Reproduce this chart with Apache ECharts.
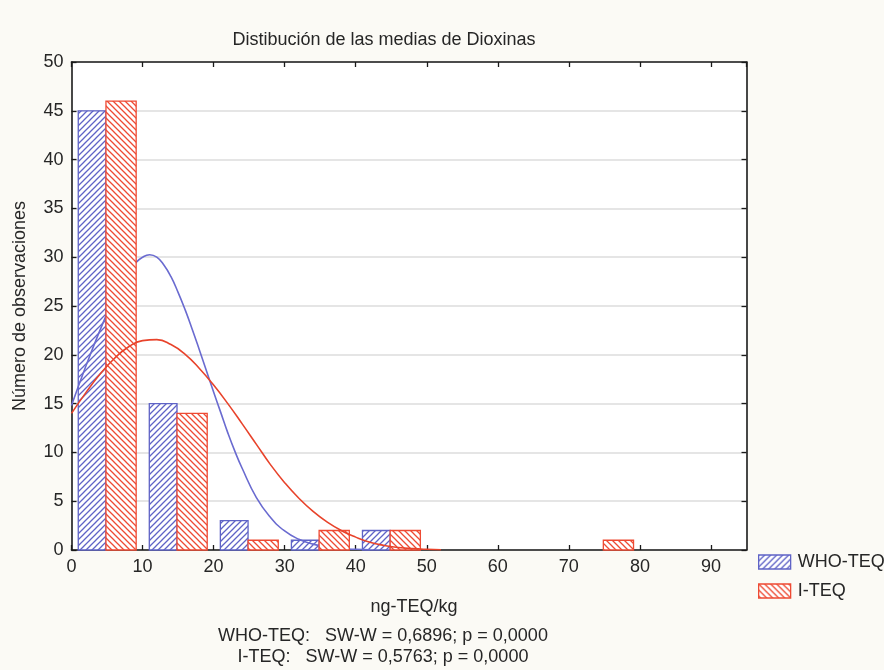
<!DOCTYPE html>
<html>
<head>
<meta charset="utf-8">
<script src="https://cdn.jsdelivr.net/npm/echarts@6/dist/echarts.min.js"></script>
<style>
  html, body { margin: 0; padding: 0; background: #fbfaf5; }
  #chart { width: 884px; height: 670px; }
</style>
</head>
<body>
<div id="chart"></div>
<script>
// Histogram bins (lower edge, ng-TEQ/kg) and counts per bin
const binStarts = [0, 10, 20, 30, 40, 50, 60, 70, 80, 90];
const whoCounts = [45, 15, 3, 1, 2, 0, 0, 0, 0, 0];
const iCounts   = [46, 14, 1, 2, 2, 0, 0, 1, 0, 0];

// Fitted normal curves (expected observations)
const whoCurveX = [0, 2, 4, 6, 7, 8, 9, 10, 11, 12, 13, 14, 15, 16, 17, 18, 19, 20, 21, 22, 23, 24,
                   26, 28, 30, 32, 34, 36, 38, 40, 42];
const whoCurveY = [14.8, 18.8, 22.5, 25.9, 27.3, 28.5, 29.4, 30.0, 30.25, 30.0, 29.2, 28.0, 26.4, 24.6, 22.6, 20.5, 18.35, 16.2, 14.1, 12.0, 10.1, 8.4,
                   5.4, 3.35, 1.95, 1.1, 0.6, 0.3, 0.15, 0.07, 0.03];
const iCurveX = [0, 2, 4, 6, 8, 10, 12, 14, 16, 18, 20, 22, 24, 26, 28, 30, 32, 34, 36, 38, 40, 42, 44, 46, 48, 50, 52];
const iCurveY = [14.0, 16.1, 18.0, 19.6, 20.8, 21.45, 21.55, 21.05, 20.05, 18.6, 16.9, 15.0, 12.95, 10.85, 8.75, 6.9, 5.3, 3.95, 2.85, 1.98, 1.32, 0.8, 0.47, 0.26, 0.14, 0.07, 0.03];

// Axis ticks
const xTicks = { min: 0, max: 95, step: 10 };
const yTicks = { min: 0, max: 50, step: 5 };

const BLUE = '#5f63c6';
const RED = '#ee4a33';
const FONT = '"Liberation Sans", Arial, Helvetica, sans-serif';
const TXT = '#262626';
const FS = 18;

// Diagonal hatch fill as a repeating canvas pattern
function hatch(color, dir) {
  const s = 6;
  const c = document.createElement('canvas');
  c.width = s; c.height = s;
  const ctx = c.getContext('2d');
  ctx.fillStyle = '#ffffff';
  ctx.fillRect(0, 0, s, s);
  ctx.strokeStyle = color;
  ctx.lineWidth = 1.3;
  ctx.beginPath();
  if (dir === '/') {
    ctx.moveTo(0, s); ctx.lineTo(s, 0);
    ctx.moveTo(-1, 1); ctx.lineTo(1, -1);
    ctx.moveTo(s - 1, s + 1); ctx.lineTo(s + 1, s - 1);
  } else {
    ctx.moveTo(0, 0); ctx.lineTo(s, s);
    ctx.moveTo(-1, s - 1); ctx.lineTo(1, s + 1);
    ctx.moveTo(s - 1, -1); ctx.lineTo(s + 1, 1);
  }
  ctx.stroke();
  return { image: c, repeat: 'repeat' };
}

const blueFill = hatch(BLUE, '/');
const redFill = hatch(RED, '\\');

// Bars of a bin: side-by-side pair inside each 10-unit bin
function barRenderer(offL, offR, fill, stroke) {
  return function (params, api) {
    const x0 = api.value(0);
    const v = api.value(1);
    if (!v) return null;
    const pTop = api.coord([x0 + offL, v]);
    const pBot = api.coord([x0 + offR, 0]);
    return {
      type: 'rect',
      shape: { x: pTop[0], y: pTop[1], width: pBot[0] - pTop[0], height: pBot[1] - pTop[1] },
      style: { fill: fill, stroke: stroke, lineWidth: 1.3 }
    };
  };
}

const whoData = binStarts.map((b, i) => [b, whoCounts[i]]);
const iData = binStarts.map((b, i) => [b, iCounts[i]]);
const whoCurve = whoCurveX.map((x, i) => [x, whoCurveY[i]]);
const iCurve = iCurveX.map((x, i) => [x, iCurveY[i]]);

function frameLine() { return { show: true, onZero: false, lineStyle: { color: '#1a1a1a', width: 1.6 } }; }
function tickIn() { return { show: true, inside: true, length: 5, lineStyle: { color: '#1a1a1a', width: 1.3 } }; }

const chart = echarts.init(document.getElementById('chart'), null, { renderer: 'canvas' });
chart.setOption({
  backgroundColor: '#fbfaf5',
  animation: false,
  grid: {
    left: 71.5, right: 137.5, top: 62, bottom: 120,
    show: true, backgroundColor: '#ffffff', borderWidth: 0
  },
  legend: {
    orient: 'vertical',
    left: 758, top: 553, padding: 0,
    itemWidth: 32, itemHeight: 14, itemGap: 11,
    icon: 'rect',
    textStyle: { fontFamily: FONT, fontSize: FS, color: TXT, padding: [0, 0, 0, 2] },
    data: [
      { name: 'WHO-TEQ', itemStyle: { color: blueFill, borderColor: BLUE, borderWidth: 1.3 } },
      { name: 'I-TEQ', itemStyle: { color: redFill, borderColor: RED, borderWidth: 1.3 } }
    ]
  },
  xAxis: [
    {
      type: 'value', position: 'bottom',
      min: xTicks.min, max: xTicks.max, interval: xTicks.step,
      axisLine: frameLine(), axisTick: tickIn(), splitLine: { show: false },
      axisLabel: { fontFamily: FONT, fontSize: FS, color: TXT, margin: 8, showMaxLabel: false }
    },
    {
      type: 'value', position: 'top',
      min: xTicks.min, max: xTicks.max, interval: xTicks.step,
      axisLine: frameLine(), axisTick: tickIn(), splitLine: { show: false },
      axisLabel: { show: false }
    }
  ],
  yAxis: [
    {
      type: 'value', position: 'left',
      min: yTicks.min, max: yTicks.max, interval: yTicks.step,
      axisLine: frameLine(), axisTick: tickIn(),
      splitLine: { show: true, lineStyle: { color: '#dcdcdc', width: 1.5 } },
      axisLabel: { fontFamily: FONT, fontSize: FS, color: TXT, margin: 8 },
      name: 'Número de observaciones',
      nameLocation: 'middle', nameGap: 42, nameRotate: 90,
      nameTextStyle: { fontFamily: FONT, fontSize: FS, color: TXT }
    },
    {
      type: 'value', position: 'right',
      min: yTicks.min, max: yTicks.max, interval: yTicks.step,
      axisLine: frameLine(), axisTick: tickIn(), splitLine: { show: false },
      axisLabel: { show: false }
    }
  ],
  series: [
    {
      name: 'WHO-TEQ', type: 'custom', z: 2,
      xAxisIndex: 0, yAxisIndex: 0,
      itemStyle: { color: blueFill, borderColor: BLUE },
      encode: { x: 0, y: 1 },
      renderItem: barRenderer(0.95, 4.85, blueFill, BLUE),
      data: whoData
    },
    {
      name: 'WHO-TEQ fit', type: 'line', z: 3,
      smooth: 0.5, showSymbol: false, silent: true,
      lineStyle: { color: '#6a6bd0', width: 1.6 },
      data: whoCurve
    },
    {
      name: 'I-TEQ', type: 'custom', z: 4,
      itemStyle: { color: redFill, borderColor: RED },
      encode: { x: 0, y: 1 },
      renderItem: barRenderer(4.85, 9.1, redFill, RED),
      data: iData
    },
    {
      name: 'I-TEQ fit', type: 'line', z: 5,
      smooth: 0.5, showSymbol: false, silent: true,
      lineStyle: { color: '#e8432b', width: 1.6 },
      data: iCurve
    }
  ],
  graphic: [
    {
      type: 'text', z: 10,
      style: { text: 'Distibución de las medias de Dioxinas', x: 384, y: 40,
        textAlign: 'center', textVerticalAlign: 'middle',
        font: FS + 'px ' + FONT, fill: TXT }
    },
    {
      type: 'text', z: 10,
      style: { text: 'ng-TEQ/kg', x: 414, y: 607, textAlign: 'center', textVerticalAlign: 'middle',
        font: FS + 'px ' + FONT, fill: TXT }
    },
    {
      type: 'text', z: 10,
      style: { text: 'WHO-TEQ:   SW-W = 0,6896; p = 0,0000', x: 383, y: 636, textAlign: 'center', textVerticalAlign: 'middle',
        font: FS + 'px ' + FONT, fill: TXT }
    },
    {
      type: 'text', z: 10,
      style: { text: 'I-TEQ:   SW-W = 0,5763; p = 0,0000', x: 383, y: 657, textAlign: 'center', textVerticalAlign: 'middle',
        font: FS + 'px ' + FONT, fill: TXT }
    }
  ]
});
</script>
</body>
</html>
